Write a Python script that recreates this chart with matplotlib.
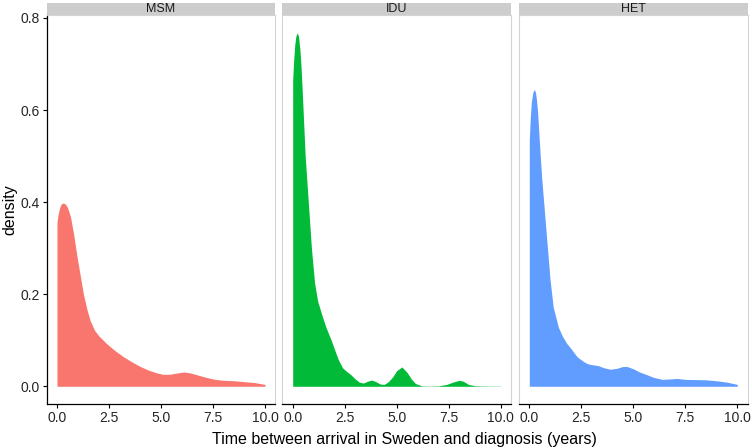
import matplotlib
matplotlib.use('Agg')
import matplotlib.pyplot as plt
import matplotlib.patches as patches

plt.rcParams['font.family'] = ['Liberation Sans', 'DejaVu Sans']

# --- Data (density estimates per group) ---
groups = ['MSM', 'IDU', 'HET']
colors = ['#F8766D', '#00BA38', '#619CFF']

msm_x = [0, 0.05, 0.12, 0.2, 0.3, 0.4, 0.5, 0.65, 0.8, 0.95, 1.1, 1.27, 1.45, 1.6, 1.8,
         2.0, 2.4, 2.8, 3.2, 3.6, 4.0, 4.4, 4.8, 5.1, 5.4, 5.8, 6.1, 6.4, 6.8, 7.2, 7.6,
         8.0, 8.5, 9.0, 9.5, 10.0]
msm_y = [0.357, 0.372, 0.387, 0.396, 0.398, 0.396, 0.389, 0.368, 0.33, 0.285, 0.245, 0.20,
         0.165, 0.142, 0.122, 0.11, 0.092, 0.077, 0.064, 0.053, 0.043, 0.035, 0.029, 0.026,
         0.026, 0.029, 0.031, 0.029, 0.024, 0.019, 0.015, 0.013, 0.012, 0.01, 0.008, 0.004]

idu_x = [0, 0.05, 0.1, 0.15, 0.22, 0.28, 0.35, 0.4, 0.45, 0.52, 0.6, 0.75, 0.9, 1.05, 1.2,
         1.4, 1.6, 1.85, 2.05, 2.2, 2.4, 2.6, 2.8, 3.0, 3.2, 3.4, 3.6, 3.8, 4.0, 4.2, 4.4,
         4.6, 4.8, 5.0, 5.25, 5.5, 5.7, 5.9, 6.2, 6.6, 7.0, 7.4, 7.7, 8.0, 8.2, 8.45, 8.8,
         9.5, 10.0]
idu_y = [0.665, 0.71, 0.742, 0.76, 0.768, 0.76, 0.73, 0.695, 0.65, 0.58, 0.5, 0.40, 0.30,
         0.225, 0.185, 0.155, 0.128, 0.10, 0.075, 0.057, 0.04, 0.032, 0.025, 0.016, 0.009,
         0.007, 0.011, 0.0135, 0.01, 0.005, 0.004, 0.01, 0.02, 0.034, 0.042, 0.03, 0.016,
         0.006, 0.001, 0.0005, 0.001, 0.004, 0.009, 0.013, 0.011, 0.004, 0.001, 0.0005,
         0.0005]

het_x = [0, 0.05, 0.1, 0.17, 0.24, 0.3, 0.35, 0.4, 0.45, 0.52, 0.6, 0.8, 1.0, 1.15, 1.4,
         1.6, 1.8, 2.0, 2.3, 2.6, 2.8, 3.0, 3.3, 3.6, 3.9, 4.2, 4.5, 4.7, 5.0, 5.3, 5.6,
         6.0, 6.4, 6.8, 7.1, 7.5, 8.0, 8.5, 9.0, 9.5, 10.0]
het_y = [0.535, 0.585, 0.618, 0.638, 0.645, 0.638, 0.62, 0.595, 0.557, 0.505, 0.45, 0.34,
         0.23, 0.172, 0.128, 0.108, 0.093, 0.082, 0.064, 0.054, 0.049, 0.047, 0.045, 0.04,
         0.037, 0.039, 0.043, 0.043, 0.038, 0.031, 0.026, 0.019, 0.015, 0.016, 0.017,
         0.015, 0.0145, 0.014, 0.012, 0.009, 0.004]

xs = [msm_x, idu_x, het_x]
ys = [msm_y, idu_y, het_y]

x_ticks = [0, 2.5, 5, 7.5, 10]
x_labels = ['0.0', '2.5', '5.0', '7.5', '10.0']
y_ticks = [0, 0.2, 0.4, 0.6, 0.8]
y_labels = ['0.0', '0.2', '0.4', '0.6', '0.8']

# --- Figure layout (pixel based, 752 x 448) ---
W, H = 752, 448
fig = plt.figure(figsize=(W / 100, H / 100), dpi=100)

panel_left = [46.6, 282.3, 518.9]
panel_w = 228.8
panel_top, panel_bot = 15, 404
strip_h = 12

border = '#D4D4D4'
for i, g in enumerate(groups):
    ax = fig.add_axes([panel_left[i] / W, (H - panel_bot) / H,
                       panel_w / W, (panel_bot - panel_top) / H])
    ax.fill_between(xs[i], ys[i], 0, color=colors[i], linewidth=0)
    ax.set_xlim(-0.5, 10.5)
    ax.set_ylim(-0.0385, 0.8065)

    for side in ['top', 'right', 'left']:
        ax.spines[side].set_color(border)
        ax.spines[side].set_linewidth(0.8)
    ax.spines['bottom'].set_color('black')
    ax.spines['bottom'].set_linewidth(0.9)

    ax.set_xticks(x_ticks)
    ax.set_xticklabels(x_labels)
    ax.tick_params(axis='x', length=3, width=0.8, color='black', labelsize=10,
                   labelcolor='#262626', pad=2)
    if i == 0:
        ax.spines['left'].set_color('black')
        ax.spines['left'].set_linewidth(0.9)
        ax.set_yticks(y_ticks)
        ax.set_yticklabels(y_labels)
        ax.tick_params(axis='y', length=3, width=0.8, color='black', labelsize=10,
                       labelcolor='#262626', pad=2)
    else:
        ax.set_yticks([])

    # facet strip
    sh = strip_h / (panel_bot - panel_top)
    strip = patches.Rectangle((0, 1), 1, sh, transform=ax.transAxes,
                              facecolor='#CDCDCD', edgecolor='none', clip_on=False)
    ax.add_patch(strip)
    ax.text(0.5, 1 + sh / 2, g, transform=ax.transAxes, ha='center', va='center',
            fontsize=9, color='#1A1A1A')

fig.text(404 / W, 1 - 439 / H,
         'Time between arrival in Sweden and diagnosis (years)',
         ha='center', va='center', fontsize=11.5)
fig.text(10 / W, 1 - 210 / H, 'density', rotation=90, ha='center', va='center',
         fontsize=11.5)

fig.savefig('out.png', dpi=100)
